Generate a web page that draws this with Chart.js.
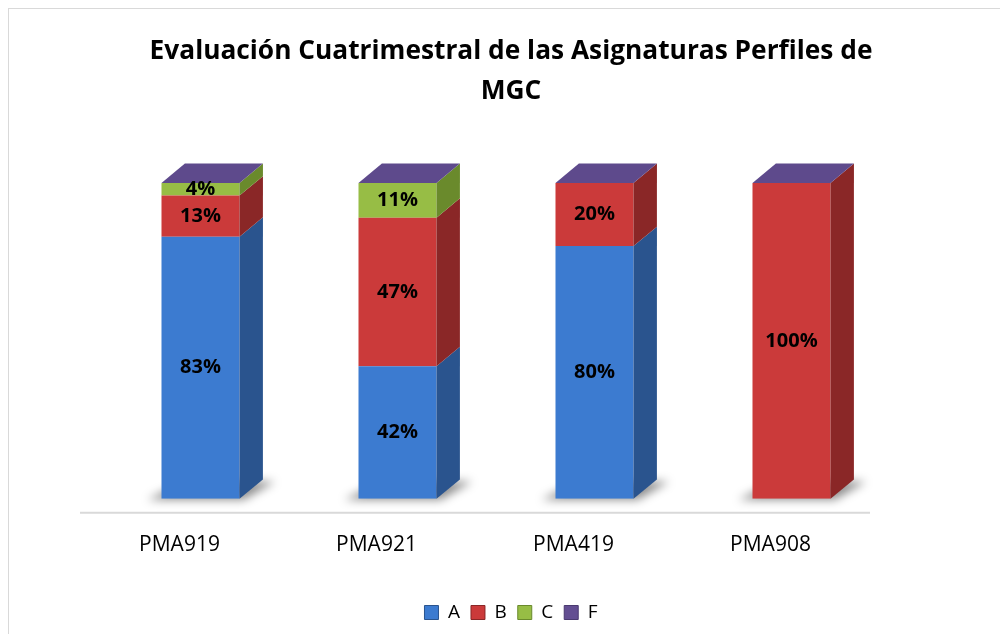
<!DOCTYPE html>
<html lang="es">
<head>
  <meta charset="UTF-8">
  <title>Evaluación Cuatrimestral</title>
  <script src="https://cdn.jsdelivr.net/npm/chart.js@4/dist/chart.umd.min.js"></script>
  <style>
    html, body { margin: 0; padding: 0; background: #fff; overflow: hidden; }
    .frame { position: absolute; left: 8px; top: 8px; width: 1100px; height: 700px; border: 1px solid #d9d9d9; }
    .wrap { position: absolute; left: 0; top: 0; width: 1000px; height: 634px; }
  </style>
</head>
<body>
  <div class="frame"></div>
  <div class="wrap"><canvas id="chart" width="1000" height="634"></canvas></div>

  <script>
    // datos (%)
    const categories = ['PMA919', 'PMA921', 'PMA419', 'PMA908'];
    const seriesA = [83, 42, 80, 0];
    const seriesB = [13, 47, 20, 100];
    const seriesC = [4, 11, 0, 0];
    const seriesF = [0, 0, 0, 0];
    const seriesNames = ['A', 'B', 'C', 'F'];

    const frontColors = ['#3c7bd0', '#cb3a3a', '#97bd45', '#634e92'];
    const sideColors = ['#2a548e', '#8a2727', '#6a8a2c', '#4a3a70'];
    const topColors = ['#5b91dc', '#d65a5a', '#a9cc5c', '#5e4a8c'];

    // caras laterales, techo y sombra de las barras 3D
    const bars3d = {
      id: 'bars3d',
      beforeDatasetsDraw(chart) {
        const ctx = chart.ctx;
        const first = chart.getDatasetMeta(0).data;
        ctx.save();
        first.forEach((bar) => {
          const x1 = bar.x - bar.width / 2, x2 = bar.x + bar.width / 2;
          const d = bar.width * 0.3, dy = d * 0.83;
          const b = chart.scales.y.getPixelForValue(0);
          ctx.filter = 'blur(5px)';
          ctx.fillStyle = 'rgba(0,0,0,0.45)';
          ctx.beginPath();
          ctx.moveTo(x1 - 14, b + 1);
          ctx.lineTo(x2 + 4, b + 1);
          ctx.lineTo(x2 + d + 12, b - dy + 2);
          ctx.lineTo(x1 + d, b - dy + 2);
          ctx.closePath();
          ctx.fill();
        });
        ctx.restore();
      },
      afterDatasetsDraw(chart) {
        const ctx = chart.ctx;
        const n = chart.data.datasets.length;
        ctx.save();
        chart.getDatasetMeta(0).data.forEach((_, i) => {
          let topBar = null;
          for (let k = 0; k < n; k++) {
            const bar = chart.getDatasetMeta(k).data[i];
            const x2 = bar.x + bar.width / 2;
            const d = bar.width * 0.3, dy = d * 0.83;
            const yt = Math.min(bar.y, bar.base), yb = Math.max(bar.y, bar.base);
            if (yb - yt > 0.5) {
              ctx.fillStyle = sideColors[k];
              ctx.beginPath();
              ctx.moveTo(x2, yb);
              ctx.lineTo(x2, yt);
              ctx.lineTo(x2 + d, yt - dy);
              ctx.lineTo(x2 + d, yb - dy);
              ctx.closePath();
              ctx.fill();
            }
            topBar = { bar, k };
          }
          const bar = topBar.bar;
          const x1 = bar.x - bar.width / 2, x2 = bar.x + bar.width / 2;
          const d = bar.width * 0.3, dy = d * 0.83;
          const yt = Math.min(bar.y, bar.base);
          ctx.fillStyle = topColors[topBar.k];
          ctx.beginPath();
          ctx.moveTo(x1, yt);
          ctx.lineTo(x2, yt);
          ctx.lineTo(x2 + d, yt - dy);
          ctx.lineTo(x1 + d, yt - dy);
          ctx.closePath();
          ctx.fill();
        });

        // etiquetas de porcentaje
        ctx.font = 'bold 20px "Open Sans"';
        ctx.fillStyle = '#000';
        ctx.textAlign = 'center';
        ctx.textBaseline = 'middle';
        chart.data.datasets.forEach((ds, k) => {
          chart.getDatasetMeta(k).data.forEach((bar, i) => {
            if (!ds.data[i]) return;
            ctx.fillText(ds.data[i] + '%', bar.x, (bar.y + bar.base) / 2);
          });
        });

        // línea del eje (borde del suelo)
        const area = chart.chartArea;
        ctx.strokeStyle = '#d9d9d9';
        ctx.lineWidth = 2;
        ctx.beginPath();
        ctx.moveTo(area.left - 22, area.bottom + 14);
        ctx.lineTo(area.right - 20, area.bottom + 14);
        ctx.stroke();
        ctx.restore();
      }
    };

    const allSeries = [seriesA, seriesB, seriesC, seriesF];

    const hiddenAxis = (pos, w) => ({
      position: pos,
      display: true,
      grid: { display: false },
      border: { display: false },
      ticks: { display: false },
      afterFit(scale) { scale.width = w; }
    });

    new Chart(document.getElementById('chart'), {
      type: 'bar',
      data: {
        labels: categories,
        datasets: allSeries.map((values, k) => ({
          label: seriesNames[k],
          data: values,
          backgroundColor: frontColors[k],
          borderColor: sideColors[k],
          borderWidth: 0,
          barPercentage: 0.396,
          categoryPercentage: 1
        }))
      },
      options: {
        responsive: false,
        animation: false,
        layout: { padding: { left: 22, right: 0, top: 0, bottom: 2 } },
        plugins: {
          title: {
            display: true,
            text: ['Evaluación Cuatrimestral de las Asignaturas Perfiles de', 'MGC'],
            color: '#000',
            font: { family: '"Open Sans"', size: 26.3, weight: 'bold', lineHeight: 1.52 },
            padding: { top: 32, bottom: 71 }
          },
          legend: {
            position: 'bottom',
            labels: {
              color: '#000',
              boxWidth: 14,
              boxHeight: 14,
              padding: 11,
              font: { family: '"Open Sans"', size: 19 },
              generateLabels(chart) {
                return chart.data.datasets.map((ds, k) => ({
                  text: ds.label,
                  fillStyle: frontColors[k],
                  strokeStyle: sideColors[k],
                  lineWidth: 1,
                  datasetIndex: k
                }));
              }
            }
          },
          tooltip: { enabled: false }
        },
        scales: {
          x: {
            stacked: true,
            grid: { display: false, drawTicks: false },
            border: { display: false },
            ticks: { color: '#000', font: { family: '"Open Sans"', size: 21 }, padding: 34, labelOffset: -21 }
          },
          y: Object.assign(hiddenAxis('left', 80), { stacked: true, min: 0, max: 100 }),
          yRight: hiddenAxis('right', 110)
        }
      },
      plugins: [bars3d]
    });
  </script>
</body>
</html>
